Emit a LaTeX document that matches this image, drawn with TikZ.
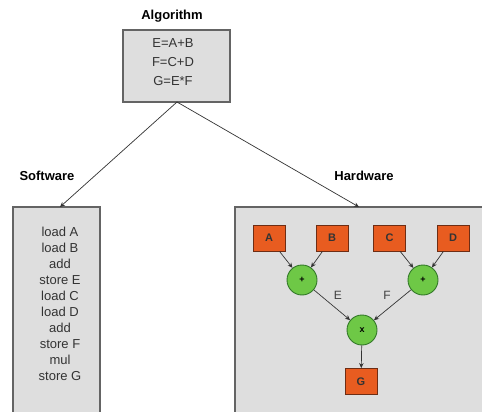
\documentclass[tikz,border=0pt]{standalone}
\usepackage{fontspec}
\setmainfont{Liberation Sans}
\usetikzlibrary{arrows.meta}
\definecolor{boxgray}{RGB}{222,222,222}
\definecolor{edgegray}{RGB}{100,100,100}
\definecolor{opfill}{RGB}{232,92,32}
\definecolor{opedge}{RGB}{110,45,20}
\definecolor{grfill}{RGB}{110,200,70}
\definecolor{gredge}{RGB}{50,120,40}
\tikzset{
  panel/.style={draw=edgegray, fill=boxgray, line width=1.5pt},
  title/.style={font=\bfseries\fontsize{13}{15}\selectfont},
  body/.style={font=\fontsize{13}{16}\selectfont, align=center, text=black!80},
  regbox/.style={draw=opedge, fill=opfill, line width=0.9pt, minimum width=32pt, minimum height=26pt, inner sep=0pt, font=\bfseries\fontsize{11}{12}\selectfont, text=black!80},
  opnode/.style={circle, draw=gredge, fill=grfill, line width=0.9pt, minimum size=30pt, inner sep=0pt, font=\bfseries\fontsize{9}{10}\selectfont},
  arr/.style={-{Stealth[length=5pt,width=4.5pt]}, line width=0.7pt, draw=black!80},
  lbl/.style={font=\fontsize{12}{13}\selectfont, text=black!75}
}
\begin{document}
\begin{tikzpicture}[x=1pt,y=-1pt]
\clip (0,0) rectangle (482,412);
\fill[white] (0,0) rectangle (482,412);
% panels
\node[panel, minimum width=107pt, minimum height=72pt, inner sep=0pt] (alg) at (176.5,66) {};
\node[body, font=\fontsize{13}{19}\selectfont] at (173,62) {E=A+B\\F=C+D\\G=E*F};
\node[title] (algt) at (172,16) {Algorithm};
\draw[panel] (13,207) rectangle (100,430);
\coordinate (swtop) at (60,207);
\node[body] (swcode) at (60,303.5) {load A\\load B\\add\\store E\\load C\\load D\\add\\store F\\mul\\store G};
\node[title] (swt) at (47,176) {Software};
\draw[panel] (235,207) rectangle (500,430);
\coordinate (hwtop) at (359,207);
\node[title] (hwt) at (364,176) {Hardware};
\coordinate (algbot) at (177,102);
\draw[arr] (algbot) -- (swtop);
\draw[arr] (algbot) -- (hwtop);
% hardware graph
\node[regbox] (A) at (269,238) {A};
\node[regbox] (B) at (332,238) {B};
\node[regbox] (C) at (389.5,238) {C};
\node[regbox] (D) at (453,238) {D};
\node[opnode] (p1) at (302,280) {+};
\node[opnode] (p2) at (423,280) {+};
\node[opnode] (m) at (362,330) {x};
\node[regbox] (G) at (361,381.5) {G};
\draw[arr] (A) -- (p1);
\draw[arr] (B) -- (p1);
\draw[arr] (C) -- (p2);
\draw[arr] (D) -- (p2);
\draw[arr] (p1) -- node[lbl, pos=0.45, above right=0pt] {E} (m);
\draw[arr] (p2) -- node[lbl, pos=0.45, above left=0pt] {F} (m);
\draw[arr] (m) -- (G);
\end{tikzpicture}
\end{document}
